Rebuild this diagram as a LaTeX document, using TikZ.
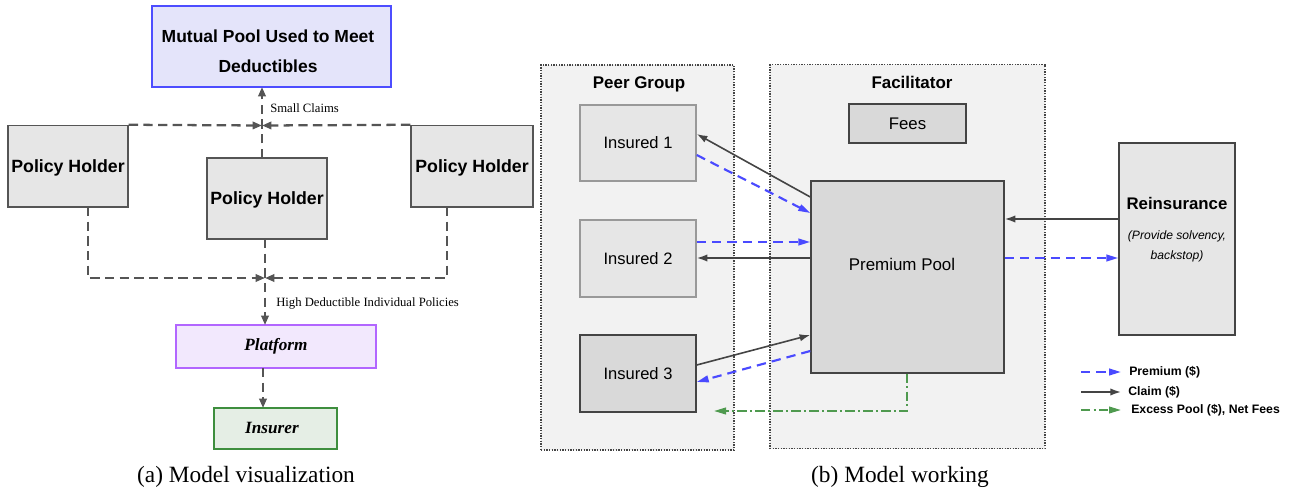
\documentclass[tikz,border=0pt]{standalone}
\usepackage{fontspec}
\usetikzlibrary{arrows.meta}
\newfontfamily\sansA{Liberation Sans}
\newfontfamily\serifT{Liberation Serif}
\definecolor{dk}{HTML}{555555}
\definecolor{dkk}{HTML}{444444}
\definecolor{lgray}{HTML}{999999}
\definecolor{boxfill}{HTML}{E6E6E6}
\definecolor{boxfillb}{HTML}{D9D9D9}
\definecolor{contfill}{HTML}{F2F2F2}
\definecolor{mpfill}{HTML}{E4E4FA}
\definecolor{mpdraw}{HTML}{4D4DFF}
\definecolor{plfill}{HTML}{F2E8FD}
\definecolor{pldraw}{HTML}{B266FF}
\definecolor{insfill}{HTML}{E5EEE5}
\definecolor{insdraw}{HTML}{3E8E3E}
\definecolor{prem}{HTML}{4A4AFF}
\definecolor{exc}{HTML}{4F9A4F}
\begin{document}
\begin{tikzpicture}[x=0.75pt,y=-0.75pt,
  wh/.style 2 args={minimum width=#1*0.75pt, minimum height=#2*0.75pt},
  base/.style={inner sep=0pt, line width=1.1pt},
  phbox/.style={base, draw=dk, fill=boxfill, text depth=0pt, font=\sansA\bfseries\fontsize{13.3}{16}\selectfont},
  ltbox/.style={base, draw=lgray, fill=boxfill, font=\sansA\fontsize{12.4}{15}\selectfont},
  dkbox/.style={base, draw=dkk, fill=boxfillb, font=\sansA\fontsize{12.6}{15}\selectfont},
  cont/.style={inner sep=0pt, line width=1pt, draw=dkk, fill=contfill, dash pattern=on 1pt off 1pt},
  title/.style={font=\sansA\bfseries\fontsize{12.7}{15}\selectfont, inner sep=0pt},
  small/.style={font=\serifT\fontsize{9.5}{11}\selectfont, inner sep=0pt, anchor=west},
  leg/.style={font=\sansA\bfseries\fontsize{9.2}{11}\selectfont, inner sep=0pt, anchor=west},
  captext/.style={font=\serifT\fontsize{17.5}{20}\selectfont, inner sep=0pt},
  ldash/.style={draw=dk, line width=1.7pt, dash pattern=on 7pt off 4pt},
  ltip/.style={-{Triangle[length=7pt,width=5.5pt]}},
  claim/.style={draw=dkk, line width=1.2pt, -{Latex[length=8pt,width=5.5pt]}},
  premium/.style={draw=prem, line width=1.6pt, dash pattern=on 7pt off 4.5pt, -{Triangle[length=9pt,width=5pt]}},
  excess/.style={draw=exc, line width=1.4pt, dash pattern=on 7pt off 2.5pt on 1.5pt off 2.5pt, -{Triangle[length=9pt,width=5pt]}}
]
\useasboundingbox (0,0) rectangle (1290,493);

% ---------- (a) Model visualization ----------
\node[base, draw=mpdraw, fill=mpfill, wh={239}{81}] (mp) at (271.5,46.5) {};
\node[font=\sansA\bfseries\fontsize{13.1}{22.5}\selectfont, align=center, inner sep=0pt] (mptext) at (268,51) {Mutual Pool Used to Meet\\Deductibles};
\node[phbox, wh={120}{81.5}] (ph1) at (68,166.25) {Policy Holder};
\node[phbox, wh={120}{81}] (ph2) at (267,198.5) {Policy Holder};
\node[phbox, wh={122}{81.5}] (ph3) at (472,166.25) {Policy Holder};
\node[base, draw=pldraw, fill=plfill, wh={200}{43}, font=\serifT\bfseries\itshape\fontsize{12.9}{15}\selectfont] (pl) at (276,346.5) {Platform};
\node[base, draw=insdraw, fill=insfill, wh={123}{41}] (ins) at (275.5,428.5) {};
\node[font=\serifT\bfseries\itshape\fontsize{12.9}{15}\selectfont, inner sep=0pt] (instext) at (272,428) {Insurer};

\coordinate (j1) at (262,125.5);
\coordinate (j1t) at (262,87);
\coordinate (j1b) at (262,158);
\coordinate (l1) at (88,207);
\coordinate (r1) at (447,207);
\coordinate (j2) at (265,278);
\coordinate (j2b) at (265,239);
\coordinate (j2p) at (265,325);
\coordinate (pi1) at (263,368);
\coordinate (pi2) at (263,408);

\draw[ldash, ltip] (ph1.north east) -- (j1);
\draw[ldash, ltip] (ph3.north west) -- (j1);
\draw[ldash, ltip] (j1b) -- (j1t);
\draw[ldash, ltip] (l1) |- (j2);
\draw[ldash, ltip] (r1) |- (j2);
\draw[ldash, ltip] (j2b) -- (j2p);
\draw[ldash, ltip] (pi1) -- (pi2);

\node[small] (lsc) at (270,108) {Small Claims};
\node[small] (lhd) at (276,303) {High Deductible Individual Policies};

\node[captext] (capa) at (246,477) {(a) Model visualization};

% ---------- (b) Model working ----------
\node[cont, wh={193}{385}] (peer) at (637.5,257.5) {};
\node[cont, wh={275}{384}] (fac) at (907.5,256.5) {};
\node[title] (peert) at (639,84) {Peer Group};
\node[title] (fact) at (912,82) {Facilitator};

\node[ltbox, wh={116}{76}] (in1) at (638,143) {Insured 1};
\node[ltbox, wh={116}{77}] (in2) at (638,258.5) {Insured 2};
\node[dkbox, wh={116}{77}, font=\sansA\fontsize{12.4}{15}\selectfont] (in3) at (638,373.5) {Insured 3};
\node[dkbox, wh={117}{39}] (fees) at (907.5,123.5) {Fees};
\node[dkbox, wh={193}{192}] (pp) at (907.5,277) {};
\node[font=\sansA\fontsize{12.7}{15}\selectfont, inner sep=0pt] (pptext) at (902,264) {Premium Pool};
\node[base, draw=dkk, fill=boxfill, wh={116}{192}] (re) at (1177,239) {};
\node[font=\sansA\bfseries\fontsize{12.6}{15}\selectfont, inner sep=0pt] (retext) at (1177,203) {Reinsurance};
\node[font=\sansA\itshape\fontsize{9.1}{15}\selectfont, inner sep=0pt, align=center] (resub) at (1177,246) {(Provide solvency,\\backstop)};

\draw[claim] (pp.west |- 0,197) -- (in1.east |- 0,134);
\draw[premium] (in1.east |- 0,155) -- (pp.west |- 0,213);
\draw[premium] (in2.east |- 0,242) -- (pp.west |- 0,242);
\draw[claim] (pp.west |- 0,258) -- (in2.east |- 0,258);
\draw[claim] (in3.east |- 0,365) -- (pp.west |- 0,335);
\draw[premium] (pp.west |- 0,351) -- (in3.east |- 0,382);
\draw[claim] (re.west |- 0,219) -- (pp.east |- 0,219);
\draw[premium] (pp.east |- 0,258) -- (re.west |- 0,258);
\coordinate (exstart) at (907,373.5);
\coordinate (exend) at (714,411);
\draw[excess] (exstart) |- (exend);

% legend
\coordinate (lg1a) at (1081,372); \coordinate (lg1b) at (1121,372);
\coordinate (lg2a) at (1081,392); \coordinate (lg2b) at (1121,392);
\coordinate (lg3a) at (1081,410); \coordinate (lg3b) at (1121,410);
\draw[premium] (lg1a) -- (lg1b);
\draw[claim] (lg2a) -- (lg2b);
\draw[excess] (lg3a) -- (lg3b);
\node[leg] (lgt1) at (1129,372) {Premium (\$)};
\node[leg] (lgt2) at (1128,392) {Claim (\$)};
\node[leg] (lgt3) at (1131,410) {Excess Pool (\$), Net Fees};

\node[captext] (capb) at (900,477) {(b) Model working};
\end{tikzpicture}
\end{document}
